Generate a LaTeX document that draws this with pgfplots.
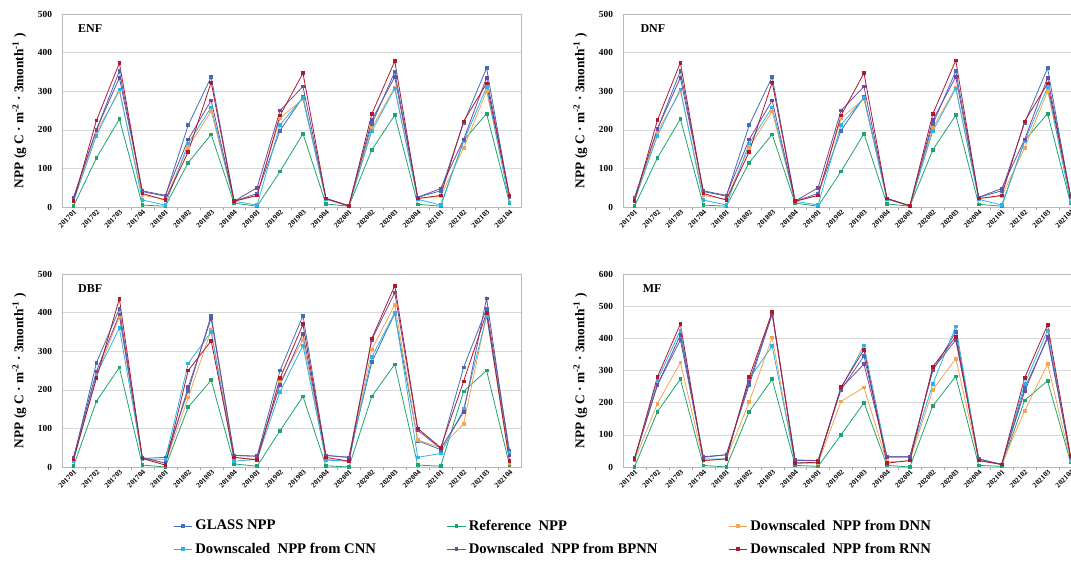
\documentclass[border=0pt]{standalone}
\usepackage{fontspec}
\setmainfont{Liberation Serif}
\usepackage{pgfplots}
\usepackage{pgfplotstable}
\pgfplotsset{compat=1.18}
\definecolor{cglass}{RGB}{65,110,185}
\definecolor{cref}{RGB}{30,165,110}
\definecolor{cdnn}{RGB}{242,165,85}
\definecolor{ccnn}{RGB}{45,180,230}
\definecolor{cbpnn}{RGB}{112,75,160}
\definecolor{crnn}{RGB}{175,25,45}

% columns: x GLASS Reference DNN CNN BPNN RNN
\pgfplotstableread{
x g r d c b n
0 20 2 15 15 25 15
1 200 127 195 185 200 224
2 352 228 300 305 335 373
3 40 5 30 18 42 35
4 28 2 20 5 30 18
5 212 115 155 165 175 143
6 337 188 248 258 276 323
7 15 10 15 15 15 15
8 35 2 30 5 50 30
9 198 92 230 213 250 237
10 285 190 280 283 312 347
11 22 8 20 20 22 22
12 3 2 3 3 3 3
13 215 148 205 197 225 241
14 350 238 310 307 337 378
15 25 7 22 20 25 22
16 42 2 28 5 48 30
17 218 172 153 170 175 222
18 360 242 300 310 335 320
19 25 10 28 12 28 30
}\tabENF

\pgfplotstableread{
x g r d c b n
0 20 2 15 15 25 15
1 202 127 195 185 202 225
2 352 228 300 305 335 374
3 40 5 30 18 42 35
4 28 2 20 5 30 18
5 212 115 155 165 175 143
6 337 188 248 258 276 323
7 15 10 15 15 15 15
8 35 2 30 5 50 30
9 198 92 230 213 250 237
10 285 190 280 283 312 347
11 22 8 20 20 22 22
12 3 2 3 3 3 3
13 215 148 205 197 225 241
14 352 238 310 307 337 380
15 25 7 22 20 25 22
16 42 2 28 5 48 30
17 218 172 153 170 175 222
18 360 242 300 310 335 320
19 25 10 28 12 28 30
}\tabDNF

\pgfplotstableread{
x g r d c b n
0 20 2 18 15 25 20
1 270 170 235 240 248 230
2 410 258 390 360 395 436
3 22 5 22 20 25 22
4 25 0 10 20 10 5
5 197 155 180 268 207 250
6 393 225 355 350 385 327
7 30 8 25 15 30 25
8 28 2 20 20 28 18
9 250 94 220 195 213 230
10 392 183 330 315 345 370
11 30 3 20 18 30 25
12 25 0 15 15 25 15
13 272 183 305 285 330 333
14 398 266 420 400 452 470
15 68 5 70 25 95 100
16 45 2 50 35 48 50
17 258 196 112 150 142 222
18 410 250 395 392 437 400
19 42 5 10 38 30 15
}\tabDBF

\pgfplotstableread{
x g r d c b n
0 25 0 20 20 28 25
1 255 172 197 270 255 280
2 395 273 325 425 410 445
3 30 5 20 25 32 20
4 38 0 25 25 38 25
5 255 172 202 275 265 280
6 475 273 403 376 478 482
7 20 5 12 15 22 12
8 20 2 12 15 20 15
9 240 100 204 245 245 248
10 345 200 247 378 320 365
11 32 5 15 30 32 12
12 32 0 20 30 32 20
13 300 190 240 258 305 312
14 420 282 337 437 395 405
15 25 5 20 20 25 20
16 8 2 8 8 8 8
17 245 207 175 258 235 277
18 400 268 320 425 405 442
19 30 15 20 25 30 35
}\tabMF

\tikzset{ttl/.style={anchor=west, font=\bfseries\fontsize{9}{10}\selectfont}}

\pgfplotsset{
  panel/.style={
    scale only axis, width=344.25pt, height=144.75pt,
    xmin=-0.5, xmax=19.5, ymin=0,
    xtick={0,...,19},
    xticklabels={201701,201702,201703,201704,201801,201802,201803,201804,201901,201902,201903,201904,202001,202002,202003,202004,202101,202102,202103,202104},
    minor xtick={0.5,1.5,...,18.5},
    major tick length=0pt, minor tick length=2.5pt, tick align=outside,
    minor tick style={gray!70},
    xtick pos=bottom, ytick pos=left,
    axis line style={gray!55},
    ymajorgrids, grid style={gray!30},
    /pgf/number format/assume math mode=true,
    xticklabel style={rotate=45, anchor=north east, inner sep=1pt, font=\bfseries\fontsize{5.5}{6}\selectfont},
    yticklabel style={font=\bfseries\fontsize{7}{8}\selectfont, xshift=-4pt},
    ylabel={NPP (g C · m\textsuperscript{-2} · 3month\textsuperscript{-1} )},
    ylabel style={at={(axis description cs:-0.093,0.5)}, anchor=center, font=\bfseries\fontsize{10}{12}\selectfont},
    every axis plot/.append style={line width=0.6pt, mark=square*, mark size=1pt},
    legend image code/.code={\draw[mark repeat=2,mark phase=2] plot coordinates {(0pt,0pt) (7pt,0pt) (14pt,0pt)};},
  },
}

\newcommand{\series}[1]{%
  \addplot[color=cglass] table[x=x,y=g]{#1};
  \addplot[color=cref] table[x=x,y=r]{#1};
  \addplot[color=cdnn] table[x=x,y=d]{#1};
  \addplot[color=ccnn] table[x=x,y=c]{#1};
  \addplot[color=cbpnn] table[x=x,y=b]{#1};
  \addplot[color=crnn] table[x=x,y=n]{#1};
}

\begin{document}
\begin{tikzpicture}
\useasboundingbox (0,0) rectangle (803.25pt,422.25pt);

\begin{axis}[panel, at={(46.5pt,267pt)}, anchor=south west, ymax=500, ytick={0,100,...,500}]
\series{\tabENF}
\node[ttl] at (axis description cs:0.025,0.927) {ENF};
\end{axis}

\begin{axis}[panel, at={(467.25pt,267pt)}, anchor=south west, ymax=500, ytick={0,100,...,500}]
\series{\tabDNF}
\node[ttl] at (axis description cs:0.028,0.927) {DNF};
\end{axis}

\begin{axis}[panel, at={(46.5pt,72pt)}, anchor=south west, ymax=500, ytick={0,100,...,500},
  legend columns=3, legend cell align=left,
  legend style={at={(axis description cs:0.2418,-0.259)}, anchor=north west, draw=none, fill=none,
    inner sep=0pt, row sep=4pt, font=\bfseries\fontsize{11}{13}\selectfont,
    /tikz/every even column/.append style={column sep=51pt}}]
\series{\tabDBF}
\node[ttl] at (axis description cs:0.025,0.927) {DBF};
\legend{GLASS NPP, Reference\ \ NPP, Downscaled\ \ NPP from DNN, Downscaled\ \ NPP from CNN, Downscaled\ \ NPP from BPNN, Downscaled\ \ NPP from RNN}
\end{axis}

\begin{axis}[panel, at={(467.25pt,72pt)}, anchor=south west, ymax=600, ytick={0,100,...,600}]
\series{\tabMF}
\node[ttl] at (axis description cs:0.033,0.927) {MF};
\end{axis}
\end{tikzpicture}
\end{document}
